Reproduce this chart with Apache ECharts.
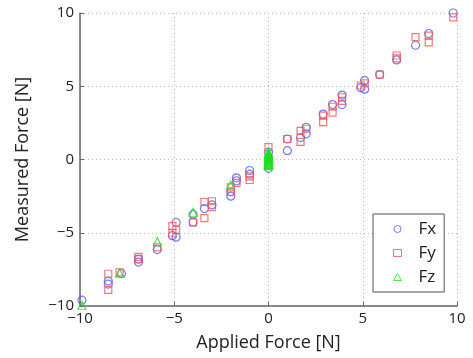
<!DOCTYPE html>
<html><head><meta charset="utf-8">
<script src="https://cdn.jsdelivr.net/npm/echarts@6/dist/echarts.min.js"></script>
<style>html,body{margin:0;padding:0;background:#fff}#c{width:473px;height:358px}</style>
</head><body><div id="c"></div>
<script>
const xTicks = [-10, -5, 0, 5, 10];
const yTicks = [-10, -5, 0, 5, 10];
const seriesNames = ['Fx', 'Fy', 'Fz'];

const fxApplied  = [-9.9,-8.5,-8.5,-7.8,-6.9,-6.9,-5.9,-5.1,-4.9,-4.9,-4.0,-4.0,-3.4,-3.0,-2.0,-2.0,-1.7,-1.7,-1.0,-1.0,0,0,1.0,1.0,1.7,2.0,2.0,2.9,3.4,3.9,3.9,4.9,5.1,5.1,5.9,6.8,7.8,8.5,9.8];
const fxMeasured = [-9.6,-8.5,-8.3,-7.8,-7.0,-6.8,-6.15,-5.2,-4.3,-5.3,-3.75,-4.28,-3.35,-3.1,-2.5,-2.2,-1.25,-1.45,-0.75,-1.0,-0.6,0.5,0.6,1.4,1.5,2.2,1.75,3.1,3.75,4.4,3.75,4.9,5.4,4.8,5.8,6.8,7.8,8.6,10.0];

const fyApplied  = [-8.5,-8.5,-7.9,-6.9,-6.9,-5.9,-5.1,-5.1,-4.9,-4.0,-3.4,-3.4,-3.0,-3.0,-2.0,-2.0,-1.7,-1.0,-1.0,0,1.0,1.7,1.7,2.0,2.9,2.9,3.4,3.4,3.9,3.9,4.9,5.1,5.9,6.8,6.8,7.8,8.5,8.5,9.8];
const fyMeasured = [-7.8,-8.9,-7.7,-6.65,-6.8,-6.0,-4.55,-5.0,-4.8,-4.3,-2.9,-4.0,-2.85,-3.25,-1.9,-2.2,-1.6,-1.4,-1.15,0.85,1.4,1.95,1.2,2.1,3.0,2.55,3.6,3.2,4.25,4.0,5.05,5.2,5.8,7.1,6.9,8.35,8.45,8.0,9.7];

const fzApplied  = [-9.9,-7.9,-5.9,-4.0,-2.0,0,0,0,0,0,0,0,0,0,0,0,0,0,0,0,0,0];
const fzMeasured = [-9.95,-7.75,-5.6,-3.6,-1.75,0.5,0.42,0.35,0.28,0.2,0.14,0.08,0.02,-0.04,-0.1,-0.16,-0.22,-0.28,-0.33,-0.38,-0.42,-0.3];

const pair = (a, b) => a.map((v, i) => [v, b[i]]);
const minus = v => String(v).replace('-', '\u2212');
const font = 'Open Sans';

const chart = echarts.init(document.getElementById('c'));
chart.setOption({
  animation: false,
  backgroundColor: '#fff',
  grid: { left: 80, right: 16, top: 13, bottom: 52 },
  xAxis: {
    type: 'value', min: -10, max: 10, interval: 5,
    name: 'Applied Force [N]', nameLocation: 'middle', nameGap: 28,
    nameTextStyle: { fontFamily: font, fontSize: 18, color: '#222' },
    axisLine: { onZero: false, lineStyle: { color: '#666', width: 1.5 } },
    axisTick: { inside: true, length: 4, lineStyle: { color: '#666' } },
    axisLabel: { fontFamily: font, fontSize: 15, color: '#222', margin: 5, formatter: minus },
    splitLine: { show: true, lineStyle: { color: '#bbb', type: [1, 3] } }
  },
  yAxis: {
    type: 'value', min: -10, max: 10, interval: 5,
    name: 'Measured Force [N]', nameLocation: 'middle', nameGap: 48,
    nameTextStyle: { fontFamily: font, fontSize: 18, color: '#222' },
    axisLine: { onZero: false, lineStyle: { color: '#666', width: 1.5 } },
    axisTick: { inside: true, length: 4, lineStyle: { color: '#666' } },
    axisLabel: { fontFamily: font, fontSize: 15, color: '#222', margin: 6, formatter: minus },
    splitLine: { show: true, lineStyle: { color: '#bbb', type: [1, 3] } }
  },
  legend: {
    orient: 'vertical', left: 373, top: 214,
    data: seriesNames.map(n => ({ name: n, itemStyle: { borderWidth: 1 } })),
    itemWidth: 8, itemHeight: 7, itemGap: 4,
    padding: [5, 8, 5, 20],
    borderColor: '#555', borderWidth: 1, backgroundColor: '#fff',
    textStyle: { fontFamily: font, fontSize: 17, color: '#222', lineHeight: 20, padding: [0, 0, 0, 12] }
  },
  series: [
    { name: seriesNames[0], type: 'scatter', symbol: 'circle', symbolSize: 8, data: pair(fxApplied, fxMeasured),
      itemStyle: { color: 'transparent', borderColor: '#5858ee', borderWidth: 1.2 } },
    { name: seriesNames[1], type: 'scatter', symbol: 'rect', symbolSize: 7, data: pair(fyApplied, fyMeasured),
      itemStyle: { color: 'transparent', borderColor: '#ee5858', borderWidth: 1.2 } },
    { name: seriesNames[2], type: 'scatter', symbol: 'triangle', symbolSize: 8, data: pair(fzApplied, fzMeasured),
      itemStyle: { color: 'transparent', borderColor: '#22dd22', borderWidth: 1.2 } }
  ]
});
</script></body></html>
